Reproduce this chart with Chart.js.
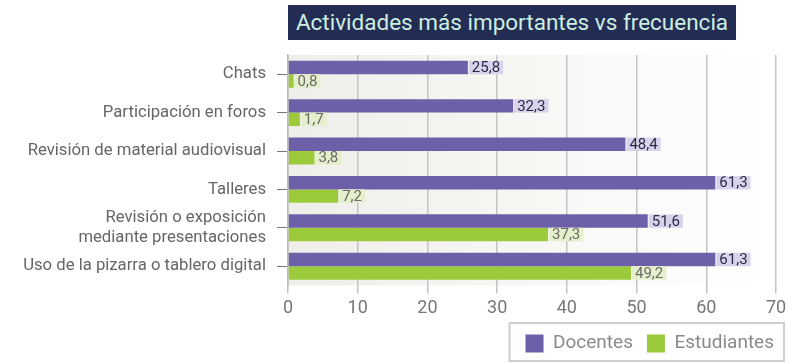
<!DOCTYPE html>
<html>
<head>
<meta charset="utf-8">
<script src="https://cdn.jsdelivr.net/npm/chart.js@4"></script>
<style>
  html, body { margin: 0; padding: 0; background: #fff; overflow: hidden; }
  #wrap { position: relative; width: 807px; height: 364px; }
  #chart { display: block; }
  #title {
    position: absolute; left: 288px; top: 5px; width: 448px; height: 35px;
    background: #232c52; color: #cdeee2; font: 22.5px Roboto, sans-serif;
    line-height: 35px; text-align: center; box-sizing: border-box;
  }
</style>
</head>
<body>
<div id="wrap">
  <canvas id="chart" width="807" height="364"></canvas>
  <div id="title">Actividades más importantes vs frecuencia</div>
</div>
<script>
// categories (top to bottom)
const categories = [
    "Chats",
    "Participación en foros",
    "Revisión de material audiovisual",
    "Talleres",
    ["Revisión o exposición", "mediante presentaciones"],
    "Uso de la pizarra o tablero digital"
]
const docentes = [25.8, 32.3, 48.4, 61.3, 51.6, 61.3]
const estudiantes = [0.8, 1.7, 3.8, 7.2, 37.3, 49.2]
const xTicks = [0, 10, 20, 30, 40, 50, 60, 70]

const fmt = v => v.toFixed(1).replace('.', ',')

// plot background gradient
const plotBg = {
    id: 'plotBg',
    beforeDraw(chart) {
        const a = chart.chartArea, c = chart.ctx
        const g = c.createLinearGradient(a.left, 0, a.right, 0)
        g.addColorStop(0, '#efeee9')
        g.addColorStop(1, '#ffffff')
        c.save()
        c.fillStyle = g
        c.fillRect(a.left, a.top, a.right - a.left, a.bottom - a.top)
        c.restore()
    }
}

// value labels with a tinted box after each bar
const valueLabels = {
    id: 'valueLabels',
    afterDatasetsDraw(chart) {
        const c = chart.ctx
        const styles = [
            {bg: '#d8d2ea', fg: '#2b2946'},
            {bg: '#e4efcb', fg: '#6a6a6a'}
        ]
        c.save()
        c.font = '15px Roboto, sans-serif'
        c.textBaseline = 'middle'
        chart.data.datasets.forEach((ds, di) => {
            const meta = chart.getDatasetMeta(di)
            meta.data.forEach((bar, i) => {
                const txt = fmt(ds.data[i])
                const w = c.measureText(txt).width + 6
                const h = bar.height
                c.fillStyle = styles[di].bg
                c.fillRect(bar.x + 1, bar.y - h / 2, w, h)
                c.fillStyle = styles[di].fg
                c.fillText(txt, bar.x + 4, bar.y + 1)
            })
        })
        c.restore()
    }
}

// legend: shorter layout box, nudged right and up, framed
const legendBox = {
    id: 'legendBox',
    beforeInit(chart) {
        const lg = chart.legend
        const origFit = lg.fit
        lg.fit = function () {
            origFit.call(this)
            this.height -= 2
        }
    },
    afterUpdate(chart) {
        const lg = chart.legend
        lg.left += 12
        lg.right += 12
        lg.top -= 3
        lg.bottom -= 3
        lg.legendHitBoxes.forEach(b => { b.left += 12; b.top -= 3 })
    },
    afterDraw(chart) {
        const boxes = chart.legend.legendHitBoxes
        if (!boxes || !boxes.length) return
        const l = Math.min(...boxes.map(b => b.left)) - 16
        const r = Math.max(...boxes.map(b => b.left + b.width)) + 10
        const btm = chart.height - 3
        const t = btm - 38
        const c = chart.ctx
        c.save()
        c.strokeStyle = '#cfcfcf'
        c.lineWidth = 2
        c.strokeRect(l, t, r - l, btm - t)
        c.restore()
    }
}

new Chart(document.getElementById('chart'), {
    type: 'bar',
    data: {
        labels: categories,
        datasets: [{
            label: 'Docentes',
            data: docentes,
            backgroundColor: '#6e5fa9',
            categoryPercentage: 0.7,
            barPercentage: 1
        }, {
            label: 'Estudiantes',
            data: estudiantes,
            backgroundColor: '#9bcb3b',
            categoryPercentage: 0.7,
            barPercentage: 1
        }]
    },
    options: {
        indexAxis: 'y',
        responsive: false,
        animation: false,
        layout: {padding: {top: 55, right: 31, left: 0, bottom: 0}},
        scales: {
            x: {
                min: 0,
                max: 70,
                afterBuildTicks: axis => { axis.ticks = xTicks.map(v => ({value: v})) },
                grid: {color: '#c4c4c4', lineWidth: 1.5, tickLength: 8},
                border: {display: false},
                ticks: {color: '#777', font: {family: 'Roboto', size: 18}, padding: 4}
            },
            y: {
                afterFit: axis => { axis.width = 288 },
                grid: {drawOnChartArea: false, offset: false, color: '#777', tickLength: 11},
                border: {color: '#bbb', width: 1.5},
                ticks: {
                    autoSkip: false,
                    color: '#666',
                    font: {family: 'Roboto', size: 16.7},
                    padding: 11
                }
            }
        },
        plugins: {
            legend: {
                position: 'bottom',
                align: 'end',
                labels: {
                    boxWidth: 18,
                    boxHeight: 18,
                    color: '#8a8a8a',
                    font: {family: 'Roboto', size: 19},
                    padding: 14
                }
            },
            tooltip: {enabled: false}
        }
    },
    plugins: [plotBg, valueLabels, legendBox]
})
</script>
</body>
</html>
